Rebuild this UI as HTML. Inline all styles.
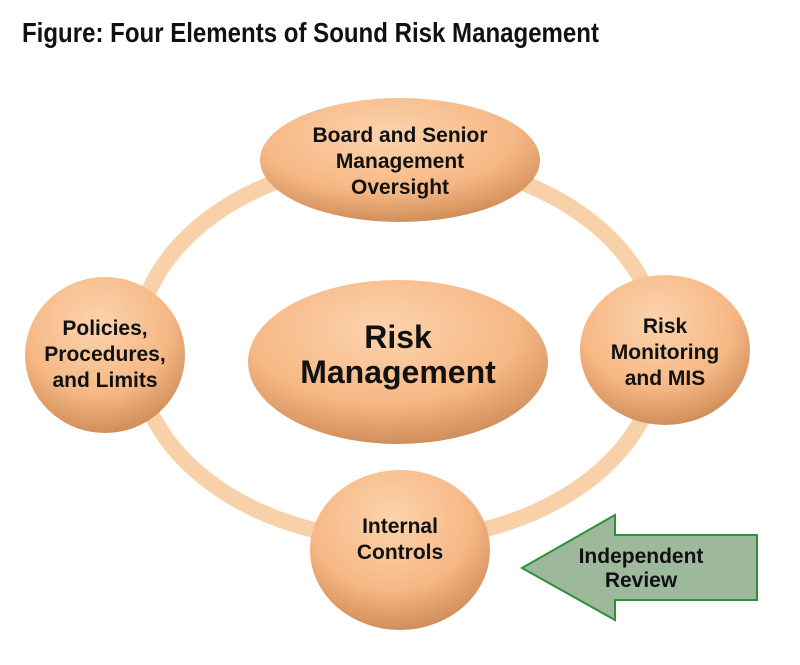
<!DOCTYPE html>
<html><head><meta charset="utf-8"><style>
body{margin:0;background:#fff;}
svg text{font-family:"Liberation Sans Narrow","Liberation Sans",sans-serif;font-weight:bold;fill:#111;text-anchor:middle;}
</style></head><body>
<svg width="800" height="660" viewBox="0 0 800 660" xmlns="http://www.w3.org/2000/svg">
<defs>
<radialGradient id="g" cx="0.45" cy="0.3" r="0.75">
<stop offset="0" stop-color="#fcd3ad"/><stop offset="0.6" stop-color="#f6b885"/><stop offset="1" stop-color="#c98652"/>
</radialGradient>
</defs>
<text x="22" y="42" textLength="577" lengthAdjust="spacingAndGlyphs" style="text-anchor:start;font-size:28px">Figure: Four Elements of Sound Risk Management</text>
<ellipse cx="398" cy="350" rx="262" ry="190" fill="none" stroke="#f8d1a8" stroke-width="16"/>
<ellipse cx="400" cy="160" rx="140" ry="62" fill="url(#g)"/>
<ellipse cx="398" cy="362" rx="150" ry="82" fill="url(#g)"/>
<ellipse cx="105" cy="355" rx="80" ry="78" fill="url(#g)"/>
<ellipse cx="665" cy="350" rx="85" ry="75" fill="url(#g)"/>
<ellipse cx="400" cy="550" rx="90" ry="80" fill="url(#g)"/>
<g style="font-size:21px">
<text x="400" y="142">Board and Senior</text>
<text x="400" y="168">Management</text>
<text x="400" y="194">Oversight</text>
<text x="105" y="335">Policies,</text>
<text x="105" y="361">Procedures,</text>
<text x="105" y="387">and Limits</text>
<text x="665" y="333">Risk</text>
<text x="665" y="359">Monitoring</text>
<text x="665" y="385">and MIS</text>
<text x="400" y="533">Internal</text>
<text x="400" y="559">Controls</text>
</g>
<text x="398" y="348" style="font-size:32px">Risk</text>
<text x="398" y="383" style="font-size:32px">Management</text>
<polygon points="522,568 615,515 615,535 757,535 757,600 615,600 615,620" fill="#9db89a" stroke="#2f8f3a" stroke-width="2"/>
<g style="font-size:21px">
<text x="641" y="563">Independent</text>
<text x="641" y="587">Review</text>
</g>
</svg>
</body></html>
